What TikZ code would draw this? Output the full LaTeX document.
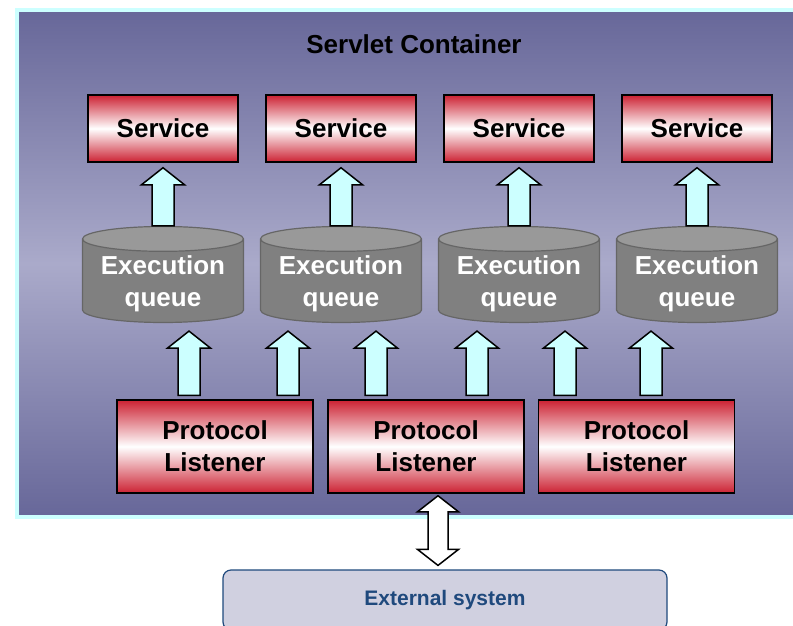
\documentclass[tikz,border=0pt]{standalone}
\usepackage{fontspec}
\setmainfont{Liberation Sans}
\usetikzlibrary{calc,shapes.geometric}
\definecolor{cbgdark}{RGB}{103,103,153}
\definecolor{cbglight}{RGB}{170,170,202}
\definecolor{cborder}{RGB}{204,255,255}
\definecolor{bred}{RGB}{204,34,51}
\definecolor{arrfill}{RGB}{204,255,255}
\definecolor{qbody}{RGB}{128,128,128}
\definecolor{qtop}{RGB}{153,153,153}
\definecolor{qline}{RGB}{102,102,102}
\definecolor{extfill}{RGB}{208,208,224}
\definecolor{extline}{RGB}{31,73,125}
\newcommand{\bigfont}{\fontsize{26}{32}\selectfont\bfseries}
\newcommand{\blockup}[2]{%
  \draw[fat] let \p1=(#1), \p2=(#2) in
    (\x1-11pt,\y1) -- (\x1-11pt,\y2-17pt) -- (\x1-21.5pt,\y2-17pt) -- (\x1,\y2)
    -- (\x1+21.5pt,\y2-17pt) -- (\x1+11pt,\y2-17pt) -- (\x1+11pt,\y1) -- cycle;}

\begin{document}
\begin{tikzpicture}[x=1pt,y=-1pt,
    box/.style={draw=black,line width=1.5pt,top color=bred,bottom color=bred,middle color=white,
      minimum width=150pt,minimum height=67pt,inner sep=0pt,font=\bigfont,align=center},
    queue/.style={cylinder,shape border rotate=90,aspect=0.2,draw=qline,line width=1.2pt,
      cylinder uses custom fill,cylinder body fill=qbody,cylinder end fill=qtop,
      minimum width=161pt,minimum height=96pt,inner sep=0pt,text=white,font=\bigfont,
      align=center,text depth=0pt},
    fat/.style={draw=black,line width=1.5pt,fill=arrfill,line join=miter}]
    \useasboundingbox (0,0) rectangle (793,625);
    \clip (0,0) rectangle (793,625);
    \path[draw=cborder,line width=4pt,top color=cbgdark,bottom color=cbgdark,middle color=cbglight]
      (17,10) rectangle (820,517);
    \node[font=\bigfont,anchor=base] (title) at (414,53) {Servlet Container};

    \node[box] (s1) at (163,128.5) {Service};
    \node[box] (s2) at (341,128.5) {Service};
    \node[box] (s3) at (519,128.5) {Service};
    \node[box] (s4) at (697,128.5) {Service};

    \node[queue] (q1) at (163,281) {Execution\\queue};
    \node[queue] (q2) at (341,281) {Execution\\queue};
    \node[queue] (q3) at (519,281) {Execution\\queue};
    \node[queue] (q4) at (697,281) {Execution\\queue};

    \node[box,minimum width=196pt,minimum height=93pt] (pl1) at (215,446.5) {Protocol\\Listener};
    \node[box,minimum width=196pt,minimum height=93pt] (pl2) at (426,446.5) {Protocol\\Listener};
    \node[box,minimum width=196pt,minimum height=93pt] (pl3) at (636.5,446.5) {Protocol\\Listener};

    \node[draw=extline,line width=1.2pt,fill=extfill,rounded corners=8pt,minimum width=444pt,
      minimum height=60pt,text=extline,font=\fontsize{21}{25}\selectfont\bfseries]
      (ext) at (445,600) {External system};

    % queue -> service
    \blockup{q1.north}{[yshift=-5pt]s1.south}
    \blockup{q2.north}{[yshift=-5pt]s2.south}
    \blockup{q3.north}{[yshift=-5pt]s3.south}
    \blockup{q4.north}{[yshift=-5pt]s4.south}

    % listener -> queue
    \blockup{[xshift=-26pt,yshift=4pt]pl1.north}{[yshift=-8pt]q1.south}
    \blockup{[xshift=73pt,yshift=4pt]pl1.north}{[yshift=-8pt]q2.south}
    \blockup{[xshift=-50pt,yshift=4pt]pl2.north}{[yshift=-8pt]q2.south}
    \blockup{[xshift=51pt,yshift=4pt]pl2.north}{[yshift=-8pt]q3.south}
    \blockup{[xshift=-71.5pt,yshift=4pt]pl3.north}{[yshift=-8pt]q3.south}
    \blockup{[xshift=14.5pt,yshift=4pt]pl3.north}{[yshift=-8pt]q4.south}

    \draw[fat,fill=white] let \p1=([xshift=12pt,yshift=-2pt]pl2.south), \p2=([yshift=4pt]ext.north) in
      (\x1,\y1) -- (\x1+20.5pt,\y1-16pt) -- (\x1+10pt,\y1-16pt) -- (\x1+10pt,\y2+16pt)
      -- (\x1+20.5pt,\y2+16pt) -- (\x1,\y2) -- (\x1-20.5pt,\y2+16pt) -- (\x1-10pt,\y2+16pt)
      -- (\x1-10pt,\y1-16pt) -- (\x1-20.5pt,\y1-16pt) -- cycle;
\end{tikzpicture}
\end{document}
